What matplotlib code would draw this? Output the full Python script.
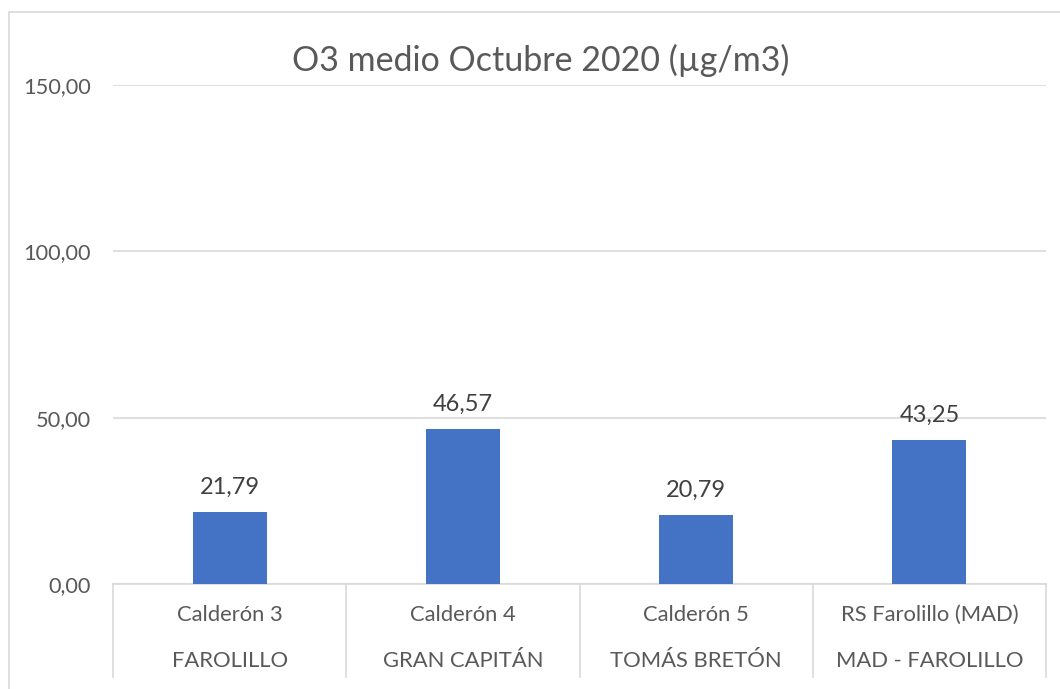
import matplotlib
matplotlib.use("Agg")
import matplotlib.pyplot as plt
from matplotlib.patches import Rectangle

stations = ["Calderón 3", "Calderón 4", "Calderón 5", "RS Farolillo (MAD)"]
places = ["FAROLILLO", "GRAN CAPITÁN", "TOMÁS BRETÓN", "MAD - FAROLILLO"]
o3_mean = [21.79, 46.57, 20.79, 43.25]
y_ticks = [0, 50, 100, 150]

plt.rcParams["font.family"] = ["Lato", "DejaVu Sans"]
text_col = "#595959"
grid_col = "#d9d9d9"

W, H = 1060, 689
fig = plt.figure(figsize=(W / 100, H / 100), dpi=100)
x0, x1, ytop, ybot = 113, 1046, 85, 584
ax = fig.add_axes([x0 / W, (H - ybot) / H, (x1 - x0) / W, (ybot - ytop) / H])

# chart outline (right/bottom edges fall outside the picture)
fig.patches.append(Rectangle((8.5 / W, -0.1), 1.2, (H - 11.5) / H + 0.1,
                             transform=fig.transFigure, fill=False,
                             edgecolor=grid_col, linewidth=1.2))

xs = range(len(o3_mean))
ax.bar(xs, o3_mean, width=0.317, color="#4472C4", zorder=3)
for x, v in zip(xs, o3_mean):
    ax.annotate(f"{v:.2f}".replace(".", ","), (x, v), xytext=(0, 10),
                textcoords="offset points", ha="center", va="bottom",
                fontsize=17, color="#404040")

ax.set_xlim(-0.5, len(o3_mean) - 0.5)
ax.set_ylim(0, 150)
ax.set_yticks(y_ticks)
ax.set_yticklabels([f"{t:.2f}".replace(".", ",") for t in y_ticks],
                   fontsize=15.7, color=text_col)
ax.tick_params(axis="y", length=0, pad=16)
ax.set_xticks([])
ax.grid(axis="y", color=grid_col, linewidth=1.2, zorder=0)
for s in ["top", "right", "left"]:
    ax.spines[s].set_visible(False)
ax.spines["bottom"].set_color(grid_col)
ax.spines["bottom"].set_linewidth(1.2)

# two-level category axis
tr = ax.get_xaxis_transform()
depth = (677 - ybot) / (ybot - ytop)
for b in [i - 0.5 for i in range(len(o3_mean) + 1)]:
    ax.plot([b, b], [0, -depth], transform=tr, color=grid_col,
            linewidth=1.2, clip_on=False)
row1 = -(615 - ybot) / (ybot - ytop)
row2 = -(661 - ybot) / (ybot - ytop)
for x, s, p in zip(xs, stations, places):
    ax.text(x, row1, s, transform=tr, ha="center", va="center",
            fontsize=15.8, color=text_col)
    ax.text(x, row2, p, transform=tr, ha="center", va="center",
            fontsize=15.8, color=text_col)

fig.text(541 / W, 1 - 60 / H, "O3 medio Octubre 2020 (µg/m3)", ha="center",
         va="center", fontsize=24.5, color=text_col)

fig.savefig("out.png", dpi=100)
